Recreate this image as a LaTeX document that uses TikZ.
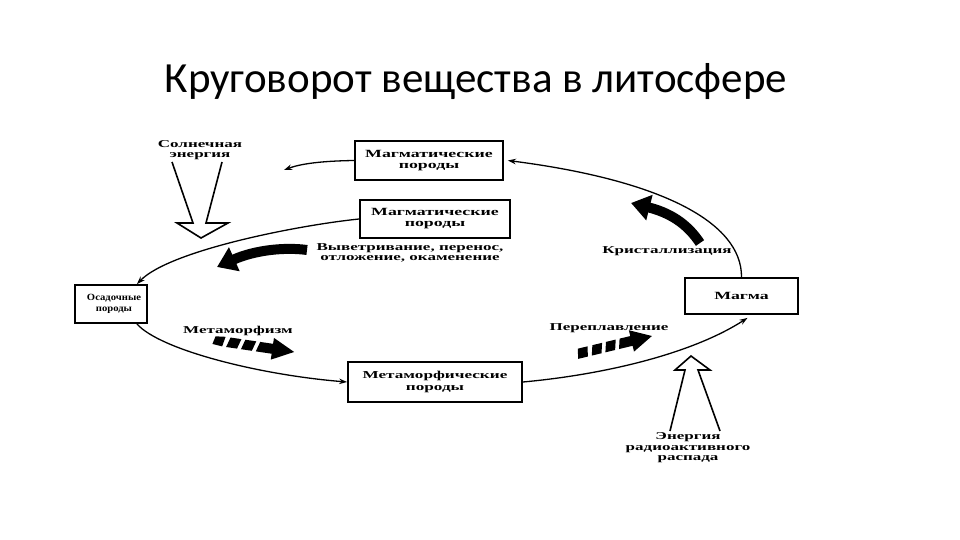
\documentclass[tikz,border=0pt]{standalone}
\usepackage{fontspec}
\setmainfont{Liberation Serif}
\newfontfamily\titlefont{Carlito}
\newfontfamily\labfont{Liberation Serif}[UprightFont=* Bold,FakeStretch=1.62]
\newfontfamily\smalllabfont{Liberation Serif}[UprightFont=* Bold,FakeStretch=1.12]
\usetikzlibrary{arrows.meta}
\begin{document}
\begin{tikzpicture}[x=1pt,y=-1pt,
  box/.style={draw=black,line width=1.8pt,inner sep=0pt,align=center,font=\labfont\fontsize{11}{11}\selectfont},
  smallbox/.style={box,font=\smalllabfont\fontsize{9.5}{10.5}\selectfont},
  lab/.style={inner sep=0pt,align=center,font=\labfont\fontsize{10.5}{10.5}\selectfont},
  thinarrow/.style={line width=1.3pt,-{Stealth[length=8pt,width=5.5pt]}},
  fatarrow/.style={line width=10pt,-{Triangle[length=19pt,width=25pt]}},
  hollow/.style={line width=1.6pt,line join=miter},
  blockfill/.style={fill=black}
]
\useasboundingbox (0,0) rectangle (960,540);
\node[font=\titlefont\fontsize{43}{48}\selectfont,anchor=base,inner sep=0pt] (title) at (476,93) {Круговорот вещества в литосфере};

\node[box,minimum width=148pt,minimum height=39pt] (mag1) at (429,160.5) {Магматические\\породы};
\node[box,minimum width=150pt,minimum height=38pt] (mag2) at (435,219) {Магматические\\породы};
\node[smallbox,minimum width=72pt,minimum height=38pt] (osad) at (111,304) {\hspace*{6pt}Осадочные\\\hspace*{6pt}породы};
\node[box,minimum width=174pt,minimum height=40pt,font=\labfont\fontsize{10.6}{11.5}\selectfont] (meta) at (435,382) {Метаморфические\\породы};
\node[box,minimum width=113pt,minimum height=36pt] (magma) at (741.5,296) {Магма};

\coordinate (p1) at (284,170);
\draw[thinarrow] (magma.north) .. controls (742,222) and (660,180) .. ([xshift=4pt]mag1.east);
\draw[thinarrow] (mag1.west) .. controls (320,161) and (300,164) .. (p1);
\draw[thinarrow] (mag2.west) .. controls (300,225) and (170,250) .. ([xshift=-11pt]osad.north east);
\draw[thinarrow] ([xshift=-11pt]osad.south east) .. controls (160,350) and (260,375) .. (meta.west);
\draw[thinarrow] (meta.east) .. controls (600,375) and (690,355) .. ([xshift=6pt,yshift=-3pt]magma.south);

% fat curved arrows
\coordinate (wt) at (307,250);
\coordinate (wh) at (217,267);
\draw[fatarrow] (wt) .. controls (285,247) and (255,250) .. (wh);
\coordinate (ct) at (700,243);
\coordinate (ch) at (631,203);
\draw[fatarrow] (ct) .. controls (690,228) and (675,214) .. (ch);

% striped arrows
\begin{scope}[shift={(213,340)},rotate=-8.4]
  \fill[blockfill] (0,4) -- (2,-4) -- (12,-5) -- (10,5) -- cycle;
  \fill[blockfill] (14,5) -- (17,-5) -- (28,-5) -- (25,5) -- cycle;
  \fill[blockfill] (29,5) -- (32,-5) -- (43,-5) -- (40,5) -- cycle;
  \fill[blockfill] (44,5) -- (47,-5) -- (60,-5) -- (60,-11) -- (82,0) -- (60,11) -- (60,5) -- cycle;
\end{scope}
\begin{scope}[shift={(577,354)},rotate=13.5]
  \fill[blockfill] (0,5) -- (2,-5) -- (12,-5) -- (10,5) -- cycle;
  \fill[blockfill] (14,5) -- (17,-5) -- (27,-5) -- (24,5) -- cycle;
  \fill[blockfill] (28,5) -- (31,-5) -- (41,-5) -- (38,5) -- cycle;
  \fill[blockfill] (42,5) -- (45,-5) -- (56,-5) -- (56,-11) -- (77,0) -- (56,11) -- (56,5) -- cycle;
\end{scope}

% hollow energy arrows
\draw[hollow] (172,162) -- (193,223) -- (177,223) -- (201,238) -- (228,223) -- (206,223) -- (222,162);
\draw[hollow] (670,431) -- (685,370) -- (675,370) -- (691,356) -- (710,370) -- (698,370) -- (720,431);

% labels
\node[lab] (sol) at (200,150) {Солнечная\\энергия};
\node[lab] (wea) at (410,253) {Выветривание, перенос,\\отложение, окаменение};
\node[lab] (cry) at (667,251) {Кристаллизация};
\node[lab] (met) at (238,331) {Метаморфизм};
\node[lab] (rem) at (609,328) {Переплавление};
\node[lab] (rad) at (688,448) {Энергия\\радиоактивного\\распада};
\end{tikzpicture}
\end{document}
